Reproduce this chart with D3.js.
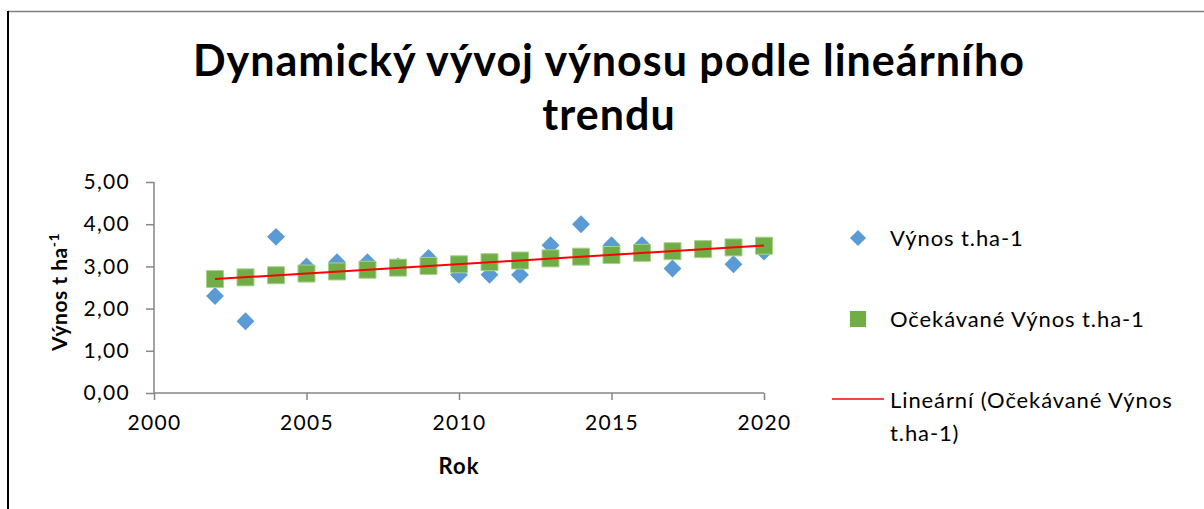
<!DOCTYPE html>
<html>
<head>
<meta charset="utf-8">
<script src="https://cdn.jsdelivr.net/npm/d3@7"></script>
<style>
  body { margin: 0; background: #fff; }
  text { font-family: Lato, "Open Sans", sans-serif; }
</style>
</head>
<body>
<div id="chart"></div>
<script>
// data
const roky = [2002, 2003, 2004, 2005, 2006, 2007, 2008, 2009, 2010, 2011,
              2012, 2013, 2014, 2015, 2016, 2017, 2018, 2019, 2020];
const vynos = [2.30, 1.70, 3.70, 3.00, 3.10, 3.10, 3.00, 3.20, 2.80, 2.80,
               2.80, 3.50, 4.00, 3.50, 3.50, 2.95, 3.40, 3.05, 3.35];
const ocekavane = [2.70, 2.74, 2.79, 2.83, 2.88, 2.92, 2.97, 3.01, 3.05, 3.10,
                   3.14, 3.19, 3.23, 3.27, 3.32, 3.36, 3.41, 3.45, 3.49];
const xTicks = [2000, 2005, 2010, 2015, 2020];
const yTicks = [0, 1, 2, 3, 4, 5];
const legendLabels = ["Výnos t.ha-1", "Očekávané Výnos t.ha-1", "Lineární (Očekávané Výnos", "t.ha-1)"];

const W = 1204, H = 509;
const plot = {left: 154, right: 764, top: 182, bottom: 393};

const blue = "#5b9bd5", green = "#70ad47", axisCol = "#868686";

const svg = d3.select("#chart").append("svg")
    .attr("width", W)
    .attr("height", H);

// frame
svg.append("line").attr("x1", 8).attr("x2", W).attr("y1", 11.5).attr("y2", 11.5)
    .attr("stroke", "#7f7f7f").attr("stroke-width", 1.5);
svg.append("line").attr("x1", 8).attr("x2", 8).attr("y1", 11).attr("y2", H)
    .attr("stroke", "#000").attr("stroke-width", 2);

// title
const title = svg.append("text")
    .attr("text-anchor", "middle")
    .attr("font-size", 43)
    .attr("letter-spacing", 1)
    .attr("font-weight", "bold");
title.append("tspan").attr("x", 609).attr("y", 76).text("Dynamický vývoj výnosu podle lineárního");
title.append("tspan").attr("x", 609).attr("y", 130).text("trendu");

const x = d3.scaleLinear().domain([2000, 2020]).range([plot.left, plot.right]);
const y = d3.scaleLinear().domain([0, 5]).range([plot.bottom, plot.top]);

// axes
const gx = svg.append("g")
    .attr("transform", `translate(0, ${plot.bottom})`)
    .call(d3.axisBottom(x).tickValues(xTicks).tickFormat(d3.format("d")).tickSize(7).tickPadding(15));
const gy = svg.append("g")
    .attr("transform", `translate(${plot.left}, 0)`)
    .call(d3.axisLeft(y).tickValues(yTicks).tickFormat(d => d3.format(".2f")(d).replace(".", ",")).tickSize(8).tickPadding(16));
[gx, gy].forEach(g => {
    g.selectAll("path, line").attr("stroke", axisCol).attr("stroke-width", 1.5);
    g.select(".domain").attr("d", g === gx ? `M${plot.left},0H${plot.right}` : `M0,${plot.bottom}V${plot.top}`);
    g.selectAll("text").attr("font-size", 21).attr("letter-spacing", 1.3).attr("fill", "#000")
        .style("font-family", "Lato, sans-serif");
});

// axis titles
svg.append("text")
    .attr("x", (plot.left + plot.right) / 2)
    .attr("y", 474)
    .attr("text-anchor", "middle")
    .attr("font-size", 22)
    .attr("letter-spacing", 1)
    .attr("font-weight", "bold")
    .text("Rok");

const yl = svg.append("text")
    .attr("transform", `translate(67, 292) rotate(-90)`)
    .attr("text-anchor", "middle")
    .attr("font-size", 21)
    .attr("letter-spacing", 0.5)
    .attr("font-weight", "bold");
yl.append("tspan").text("Výnos t ha");
yl.append("tspan").attr("font-size", 14).attr("dy", -8).text("-1");

// series
const diamond = d3.symbol().type(d3.symbolSquare).size(160);
const square = d3.symbol().type(d3.symbolSquare).size(290);

svg.append("g").selectAll("path")
    .data(roky.map((r, i) => [r, vynos[i]]))
    .join("path")
    .attr("d", diamond)
    .attr("transform", d => `translate(${x(d[0])}, ${y(d[1])}) rotate(45)`)
    .attr("fill", blue);

svg.append("g").selectAll("path")
    .data(roky.map((r, i) => [r, ocekavane[i]]))
    .join("path")
    .attr("d", square)
    .attr("transform", d => `translate(${x(d[0])}, ${y(d[1])})`)
    .attr("fill", green)
    .attr("stroke", "#a9d18e")
    .attr("stroke-width", 1);

// linear trendline of the expected series
const mx = d3.mean(roky), my = d3.mean(ocekavane);
const slope = d3.sum(roky, (r, i) => (r - mx) * (ocekavane[i] - my)) / d3.sum(roky, r => (r - mx) ** 2);
const fit = r => my + slope * (r - mx);
svg.append("line")
    .attr("x1", x(roky[0])).attr("y1", y(fit(roky[0])))
    .attr("x2", x(roky[roky.length - 1])).attr("y2", y(fit(roky[roky.length - 1])))
    .attr("stroke", "#ff0000")
    .attr("stroke-width", 2);

// legend
const lg = svg.append("g");
lg.append("path").attr("d", d3.symbol().type(d3.symbolSquare).size(130))
    .attr("transform", "translate(858, 238) rotate(45)").attr("fill", blue);
lg.append("path").attr("d", d3.symbol().type(d3.symbolSquare).size(260))
    .attr("transform", "translate(858, 319)").attr("fill", green);
lg.append("line").attr("x1", 832).attr("x2", 884).attr("y1", 399).attr("y2", 399)
    .attr("stroke", "#ff0000").attr("stroke-width", 1.5);
const legY = [246, 327, 408, 441];
lg.selectAll("text.leg")
    .data(legendLabels)
    .join("text")
    .attr("class", "leg")
    .attr("x", 890)
    .attr("y", (d, i) => legY[i])
    .attr("font-size", 22)
    .attr("letter-spacing", 0.9)
    .text(d => d);
</script>
</body>
</html>
